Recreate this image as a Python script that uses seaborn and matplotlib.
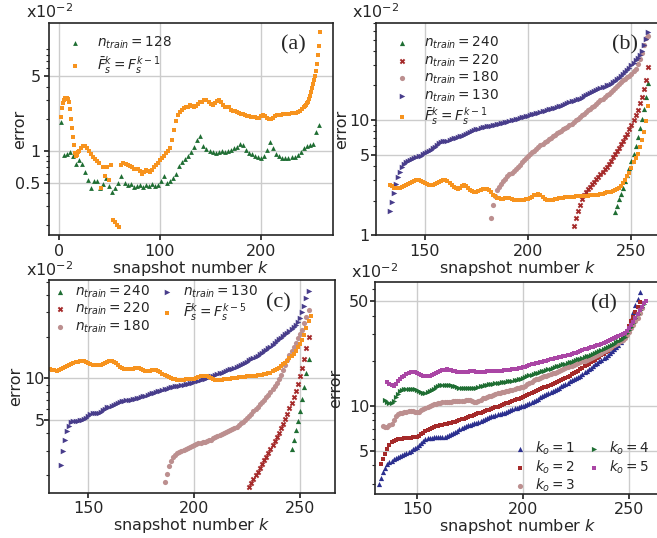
import numpy as np
import matplotlib
matplotlib.use("Agg")
import matplotlib.pyplot as plt
import seaborn as sns
from matplotlib.ticker import LogLocator, NullFormatter

# ---------------------------------------------------------------------------
# Error values, in units of 1e-2, per snapshot number k.
# Each series is stored as a start snapshot plus the values that follow it.
# ---------------------------------------------------------------------------

# (a) n_train = 128 (every third snapshot from k = 2)
a_train128_start, a_train128_step = 2, 3
a_train128 = [1.85, 0.91, 0.93, 0.98, 0.9, 0.75, 0.82, 0.75, 0.63, 0.53,
              0.45, 0.52, 0.52, 0.45, 0.49, 0.55, 0.47, 0.41, 0.45, 0.5,
              0.58, 0.5, 0.48, 0.49, 0.46, 0.47, 0.48, 0.46, 0.48, 0.47,
              0.49, 0.47, 0.48, 0.52, 0.58, 0.5, 0.52, 0.55, 0.6, 0.72,
              0.78, 0.84, 0.9, 0.97, 1.08, 1.25, 1.37, 1.1, 1.03, 1.0,
              0.97, 0.95, 0.98, 1.0, 0.97, 1.0, 1.02, 1.05, 1.08, 1.15,
              1.12, 1.02, 0.95, 0.93, 0.9, 0.88, 0.86, 0.9, 1.02, 1.22,
              1.05, 0.93, 0.89, 0.86, 0.85, 0.85, 0.87, 0.88, 0.92, 0.98,
              1.05, 1.1, 1.12, 1.16, 1.5, 1.74]

# (a) previous-snapshot baseline: k = 2..20, 22..242 (step 2), 243..258
a_prev_head = [2.06, 2.5, 2.8, 3.0, 3.1, 3.1, 3.1, 3.05, 2.85, 2.45,
               2.0, 1.65, 1.35, 1.12, 0.95, 0.9, 0.92, 0.97, 1.0]
a_prev_body = [1.05, 1.1, 1.1, 1.05, 0.99, 0.93, 0.88, 0.84, 0.8, 0.76,
               0.45, 0.7, 0.58, 0.71, 0.53, 0.73, 0.225, 0.215, 0.2, 0.19,
               0.74, 0.76, 0.75, 0.73, 0.72, 0.7, 0.68, 0.67, 0.68, 0.64,
               0.61, 0.63, 0.66, 0.65, 0.63, 0.66, 0.7, 0.74, 0.76, 0.82,
               0.86, 0.9, 0.95, 0.99, 1.05, 1.25, 1.55, 1.9, 2.15, 2.3,
               2.4, 2.5, 2.55, 2.6, 2.7, 2.65, 2.6, 2.62, 2.75, 2.85,
               2.9, 3.0, 3.0, 2.9, 2.75, 2.7, 2.8, 2.95, 3.0, 2.9,
               2.7, 2.6, 2.6, 2.55, 2.4, 2.35, 2.35, 2.3, 2.25, 2.2,
               2.22, 2.18, 2.12, 2.1, 2.08, 2.07, 2.06, 2.05, 2.05, 2.1,
               2.17, 2.12, 2.03, 2.0, 2.0, 2.05, 2.1, 2.15, 2.15, 2.18,
               2.2, 2.2, 2.22, 2.22, 2.24, 2.24, 2.27, 2.3, 2.38, 2.45,
               2.55]
a_prev_tail = [2.62, 2.7, 2.8, 2.9, 3.05, 3.3, 3.55, 3.9, 4.2, 4.6,
               5.0, 5.6, 6.6, 7.9, 9.7, 13.0]

# (b)
b_train240_start = 242
b_train240 = [1.6, 1.8, 2.05, 2.3, 2.6, 2.95, 3.35, 3.85, 4.4, 5.1,
              6.0, 7.1, 8.5, 10.2, 12.5, 16.0, 21.0]
b_train220_start = 222
b_train220 = [1.2, 1.42, 1.63, 1.85, 2.05, 2.22, 2.38, 2.52, 2.65, 2.78,
              2.92, 3.07, 3.22, 3.38, 3.55, 3.75, 3.95, 4.2, 4.45, 4.75,
              5.05, 5.4, 5.75, 6.15, 6.6, 7.1, 7.65, 8.3, 9.0, 10.0,
              11.0, 12.3, 14.0, 15.8, 18.5, 22.3, 28.7]
b_train180_start = 182
b_train180 = [1.4, 1.85, 2.2, 2.45, 2.65, 2.8, 2.95, 3.1, 3.25, 3.38,
              3.5, 3.65, 3.8, 3.95, 4.1, 4.3, 4.5, 4.7, 4.9, 5.05,
              5.25, 5.45, 5.65, 5.85, 6.05, 6.25, 6.45, 6.65, 6.85, 7.05,
              7.25, 7.5, 7.7, 7.9, 8.1, 8.3, 8.5, 8.75, 9.0, 9.3,
              9.6, 9.95, 10.3, 10.7, 11.0, 11.4, 11.8, 12.2, 12.6, 13.0,
              13.4, 13.9, 14.4, 14.9, 15.4, 15.9, 16.5, 17.0, 17.6, 18.3,
              19.0, 19.8, 20.6, 21.5, 22.2, 22.9, 23.6, 24.3, 25.0, 26.5,
              28.0, 30.5, 34.0, 38.0, 45.0, 51.4, 54.0]
b_train130_start = 133
b_train130 = [1.62, 1.96, 2.33, 2.81, 3.21, 3.55, 3.93, 4.2, 4.35, 4.45,
              4.55, 4.62, 4.7, 4.78, 4.85, 4.92, 5.05, 5.2, 5.3, 5.4,
              5.55, 5.7, 5.85, 6.05, 6.3, 6.5, 6.6, 6.65, 6.65, 6.7,
              6.8, 6.95, 7.05, 7.15, 7.25, 7.35, 7.5, 7.65, 7.8, 7.95,
              8.05, 8.15, 8.3, 8.45, 8.55, 8.65, 8.75, 8.85, 8.9, 8.95,
              9.05, 9.1, 9.2, 9.3, 9.4, 9.5, 9.6, 9.7, 9.8, 9.95,
              10.05, 10.2, 10.3, 10.45, 10.55, 10.65, 10.8, 10.9, 11.05, 11.2,
              11.3, 11.45, 11.6, 11.75, 11.9, 12.05, 12.2, 12.4, 12.55, 12.7,
              12.85, 13.0, 13.2, 13.4, 13.65, 13.9, 14.15, 14.4, 14.6, 14.8,
              15.0, 15.2, 15.4, 15.7, 16.05, 16.4, 16.75, 17.1, 17.45, 17.8,
              18.15, 18.5, 18.9, 19.25, 19.6, 20.0, 20.4, 20.8, 21.4, 22.0,
              22.6, 23.2, 24.0, 25.0, 26.2, 27.4, 28.6, 30.0, 31.4, 33.0,
              34.8, 36.6, 40.0, 45.0, 51.0, 57.8]
b_prev_start = 133
b_prev = [2.76, 2.68, 2.6, 2.55, 2.55, 2.58, 2.62, 2.68, 2.74, 2.8,
          2.86, 2.92, 2.96, 3.0, 3.0, 2.96, 2.9, 2.84, 2.78, 2.74,
          2.72, 2.74, 2.78, 2.84, 2.9, 2.96, 3.0, 3.0, 2.96, 2.86,
          2.74, 2.64, 2.56, 2.54, 2.6, 2.68, 2.72, 2.68, 2.58, 2.48,
          2.42, 2.38, 2.38, 2.42, 2.48, 2.52, 2.54, 2.54, 2.48, 2.38,
          2.26, 2.18, 2.12, 2.1, 2.08, 2.08, 2.1, 2.12, 2.1, 2.06,
          2.04, 2.02, 2.02, 2.02, 2.03, 2.04, 2.05, 2.06, 2.1, 2.16,
          2.22, 2.26, 2.28, 2.24, 2.16, 2.08, 2.04, 2.02, 2.02, 2.03,
          2.05, 2.07, 2.09, 2.11, 2.12, 2.13, 2.14, 2.15, 2.16, 2.17,
          2.18, 2.18, 2.19, 2.19, 2.2, 2.2, 2.21, 2.22, 2.22, 2.23,
          2.24, 2.26, 2.28, 2.3, 2.33, 2.36, 2.38, 2.4, 2.43, 2.47,
          2.52, 2.6, 2.7, 2.85, 3.0, 3.25, 3.5, 3.85, 4.3, 4.7,
          5.1, 5.8, 6.7, 7.9, 9.8, 13.2]

# (c)
c_train240_start = 246
c_train240 = [3.1, 3.6, 4.2, 4.9, 5.8, 7.1, 8.6, 10.9, 13.8]
c_train220_start = 226
c_train220 = [1.65, 1.75, 1.87, 2.0, 2.12, 2.25, 2.4, 2.55, 2.72, 2.9,
              3.1, 3.3, 3.52, 3.77, 4.05, 4.35, 4.7, 5.1, 5.55, 6.05,
              6.6, 7.3, 8.1, 9.1, 10.3, 11.8, 13.8, 16.5, 20.0]
c_train180_start = 186
c_train180 = [1.78, 2.03, 2.33, 2.53, 2.68, 2.79, 2.87, 2.93, 2.98, 3.04,
              3.09, 3.14, 3.19, 3.24, 3.3, 3.34, 3.38, 3.42, 3.46, 3.49,
              3.53, 3.57, 3.61, 3.7, 3.79, 3.85, 3.91, 3.98, 4.04, 4.1,
              4.17, 4.25, 4.32, 4.4, 4.48, 4.6, 4.72, 4.86, 5.0, 5.15,
              5.35, 5.55, 5.78, 6.0, 6.24, 6.5, 6.75, 7.0, 7.3, 7.6,
              7.95, 8.35, 8.75, 9.2, 9.9, 10.6, 11.5, 12.5, 13.6, 14.7,
              15.8, 16.9, 18.1, 19.4, 20.8, 22.3, 24.9, 27.5, 31.0]
c_train130_start = 137
c_train130 = [2.37, 3.0, 3.6, 4.15, 4.55, 4.8, 4.92, 4.95, 4.95, 4.97,
              5.0, 5.08, 5.2, 5.35, 5.5, 5.58, 5.6, 5.62, 5.65, 5.72,
              5.85, 6.0, 6.15, 6.25, 6.35, 6.45, 6.55, 6.65, 6.75, 6.82,
              6.88, 6.92, 6.96, 7.0, 7.05, 7.12, 7.18, 7.25, 7.32, 7.4,
              7.5, 7.6, 7.7, 7.8, 7.88, 7.96, 8.04, 8.12, 8.2, 8.3,
              8.4, 8.5, 8.6, 8.7, 8.75, 8.8, 8.85, 8.9, 8.95, 9.05,
              9.15, 9.25, 9.32, 9.4, 9.5, 9.6, 9.7, 9.8, 9.9, 10.05,
              10.2, 10.3, 10.45, 10.6, 10.75, 10.9, 11.0, 11.15, 11.3, 11.45,
              11.6, 11.75, 11.95, 12.1, 12.3, 12.5, 12.75, 12.95, 13.2, 13.45,
              13.75, 14.0, 14.3, 14.6, 14.95, 15.3, 15.7, 16.1, 16.5, 16.95,
              17.45, 18.0, 18.6, 19.2, 19.7, 20.2, 20.8, 21.4, 22.0, 22.8,
              23.5, 24.3, 25.5, 27.1, 30.3, 33.5, 37.8, 42.7]
c_prev5_start = 132
c_prev5 = [11.6, 11.5, 11.4, 11.3, 11.4, 11.6, 11.8, 12.0, 12.3, 12.5,
           12.7, 12.9, 13.1, 13.2, 13.3, 13.4, 13.3, 13.1, 12.8, 12.6,
           12.45, 12.4, 12.4, 12.45, 12.5, 12.7, 12.95, 13.2, 13.3, 13.3,
           13.1, 12.85, 12.5, 12.15, 11.85, 11.7, 11.6, 11.6, 11.65, 11.75,
           11.85, 11.9, 11.8, 11.6, 11.4, 11.3, 11.25, 11.3, 11.4, 11.5,
           11.5, 11.3, 11.05, 10.8, 10.55, 10.35, 10.2, 10.0, 9.9, 9.8,
           9.78, 9.76, 9.76, 9.78, 9.8, 9.8, 9.8, 9.85, 9.9, 10.0,
           10.15, 10.3, 10.4, 10.45, 10.35, 10.2, 10.05, 9.9, 9.78, 9.7,
           9.72, 9.76, 9.8, 9.85, 9.9, 9.95, 10.0, 10.05, 10.1, 10.15,
           10.2, 10.2, 10.25, 10.3, 10.3, 10.35, 10.4, 10.45, 10.5, 10.55,
           10.6, 10.7, 10.8, 10.9, 11.0, 11.2, 11.4, 11.6, 11.9, 12.2,
           12.6, 13.0, 13.4, 13.9, 14.4, 15.0, 15.8, 16.8, 17.8, 18.9,
           20.5, 23.0, 25.9, 28.0]

# (d) order of the reduced model k_o
d_ko1_start = 132
d_ko1 = [3.02, 3.3, 3.58, 3.85, 4.05, 4.18, 4.3, 4.4, 4.48, 4.55,
         4.62, 4.7, 4.78, 4.86, 4.94, 5.02, 5.1, 5.2, 5.3, 5.45,
         5.6, 5.78, 5.95, 6.05, 6.1, 6.12, 6.14, 6.15, 6.15, 6.17,
         6.18, 6.2, 6.3, 6.42, 6.52, 6.62, 6.7, 6.82, 6.95, 7.05,
         7.17, 7.28, 7.4, 7.48, 7.56, 7.64, 7.72, 7.8, 7.92, 8.05,
         8.18, 8.32, 8.42, 8.5, 8.58, 8.66, 8.74, 8.82, 8.9, 9.0,
         9.12, 9.24, 9.36, 9.48, 9.6, 9.7, 9.8, 9.9, 10.0, 10.15,
         10.3, 10.45, 10.6, 10.8, 10.98, 11.18, 11.38, 11.58, 11.8, 11.98,
         12.15, 12.33, 12.5, 12.7, 12.95, 13.2, 13.5, 13.8, 14.05, 14.3,
         14.55, 14.8, 15.05, 15.3, 15.6, 15.9, 16.3, 16.7, 17.1, 17.5,
         17.9, 18.4, 18.9, 19.4, 19.9, 20.3, 20.8, 21.3, 21.8, 22.5,
         23.2, 23.9, 24.7, 25.6, 26.8, 28.2, 29.7, 31.8, 34.5, 38.0,
         42.5, 47.0, 52.0, 58.0]
d_ko2_start = 133
d_ko2 = [4.07, 4.4, 4.75, 5.1, 5.45, 5.7, 5.85, 5.92, 5.96, 6.0,
         6.03, 6.05, 6.07, 6.1, 6.12, 6.15, 6.17, 6.2, 6.32, 6.48,
         6.62, 6.75, 6.88, 7.0, 7.1, 7.2, 7.27, 7.33, 7.39, 7.45,
         7.5, 7.56, 7.62, 7.68, 7.74, 7.8, 7.9, 8.0, 8.1, 8.2,
         8.3, 8.4, 8.5, 8.6, 8.7, 8.8, 8.9, 9.0, 9.1, 9.2,
         9.3, 9.4, 9.52, 9.64, 9.76, 9.88, 10.0, 10.12, 10.25, 10.38,
         10.51, 10.64, 10.77, 10.9, 11.04, 11.18, 11.32, 11.46, 11.6, 11.75,
         11.95, 12.15, 12.35, 12.55, 12.75, 12.95, 13.1, 13.25, 13.4, 13.55,
         13.7, 13.88, 14.1, 14.35, 14.6, 14.85, 15.1, 15.35, 15.6, 15.9,
         16.2, 16.5, 16.85, 17.2, 17.5, 17.9, 18.3, 18.7, 19.1, 19.5,
         19.9, 20.3, 20.8, 21.3, 21.8, 22.3, 22.8, 23.3, 23.9, 24.5,
         25.1, 25.8, 26.5, 27.4, 28.5, 29.7, 31.8, 34.0, 37.0, 39.4,
         42.5, 46.0, 49.6]
d_ko3_start = 134
d_ko3 = [7.31, 7.25, 7.25, 7.4, 7.6, 8.0, 8.5, 8.75, 8.9, 9.0,
         9.08, 9.12, 9.16, 9.2, 9.2, 9.15, 9.1, 9.15, 9.3, 9.45,
         9.6, 9.75, 9.9, 10.05, 10.2, 10.3, 10.38, 10.45, 10.52, 10.6,
         10.62, 10.64, 10.66, 10.68, 10.7, 10.73, 10.76, 10.8, 10.84, 10.88,
         10.9, 10.85, 10.75, 10.65, 10.65, 10.8, 11.0, 11.2, 11.3, 11.45,
         11.55, 11.65, 11.8, 11.95, 12.1, 12.2, 12.3, 12.4, 12.5, 12.6,
         12.7, 12.82, 12.94, 13.06, 13.18, 13.3, 13.4, 13.65, 13.9, 14.2,
         14.5, 14.8, 15.0, 15.2, 15.35, 15.5, 15.7, 15.9, 16.05, 16.25,
         16.45, 16.65, 16.85, 17.1, 17.3, 17.55, 17.8, 18.05, 18.3, 18.55,
         18.8, 19.05, 19.3, 19.55, 19.8, 20.05, 20.3, 20.6, 20.95, 21.3,
         21.65, 22.0, 22.35, 22.7, 23.1, 23.5, 23.9, 24.4, 24.9, 25.4,
         25.9, 26.4, 27.0, 27.6, 28.2, 29.6, 31.2, 33.0, 34.8, 36.6,
         38.6, 41.5, 45.3]
d_ko4_start = 135
d_ko4 = [10.9, 10.6, 10.45, 10.5, 10.8, 11.4, 12.0, 12.5, 12.8, 12.95,
         13.0, 12.95, 12.9, 13.0, 12.95, 12.8, 12.6, 12.4, 12.25, 12.2,
         12.3, 12.5, 12.75, 13.0, 13.3, 13.55, 13.75, 13.85, 13.85, 13.8,
         13.75, 13.7, 13.6, 13.45, 13.3, 13.2, 13.15, 13.1, 13.1, 13.1,
         13.1, 13.05, 13.05, 13.15, 13.3, 13.45, 13.6, 13.7, 13.8, 13.88,
         13.95, 14.02, 14.1, 14.18, 14.26, 14.34, 14.42, 14.5, 14.58, 14.66,
         14.75, 14.85, 14.95, 15.1, 15.2, 15.35, 15.55, 15.75, 15.95, 16.15,
         16.35, 16.5, 16.65, 16.8, 16.95, 17.1, 17.3, 17.5, 17.7, 17.9,
         18.1, 18.3, 18.5, 18.7, 18.9, 19.1, 19.3, 19.5, 19.75, 20.0,
         20.2, 20.4, 20.6, 20.85, 21.1, 21.35, 21.6, 21.9, 22.2, 22.5,
         22.8, 23.1, 23.5, 23.9, 24.3, 24.7, 25.1, 25.5, 26.0, 26.5,
         27.0, 27.6, 28.3, 29.0, 30.5, 32.0, 33.8, 36.0, 38.5, 41.0,
         43.5, 46.0, 48.0]
d_ko5_start = 136
d_ko5 = [14.5, 14.0, 13.7, 13.6, 13.9, 14.6, 15.2, 15.6, 15.9, 16.2,
         16.45, 16.7, 16.85, 16.85, 16.6, 16.3, 16.05, 15.9, 15.85, 15.85,
         15.9, 16.0, 16.2, 16.45, 16.75, 17.05, 17.3, 17.45, 17.5, 17.45,
         17.3, 17.1, 16.95, 16.85, 16.8, 16.75, 16.75, 16.8, 16.9, 17.0,
         17.0, 16.95, 16.85, 16.8, 16.8, 16.85, 16.9, 16.95, 17.0, 17.05,
         17.1, 17.1, 17.1, 17.15, 17.2, 17.25, 17.3, 17.35, 17.4, 17.5,
         17.6, 17.7, 17.8, 17.9, 18.05, 18.25, 18.5, 18.75, 18.95, 19.15,
         19.3, 19.45, 19.6, 19.75, 19.9, 20.05, 20.2, 20.4, 20.55, 20.7,
         20.9, 21.1, 21.3, 21.45, 21.6, 21.8, 22.0, 22.2, 22.4, 22.65,
         22.9, 23.2, 23.5, 23.8, 24.1, 24.35, 24.6, 24.85, 25.1, 25.35,
         25.6, 25.85, 26.3, 26.75, 27.2, 27.65, 28.1, 28.5, 28.9, 29.3,
         29.7, 30.1, 30.5, 31.8, 33.2, 34.6, 36.5, 38.6, 41.0, 43.5,
         46.0, 48.3, 50.0]

# Legend labels
lab_train = [r"$n_{train} = %d$" % n for n in (128, 240, 220, 180, 130)]
lab_prev1 = r"$\bar{F}_s^k = F_s^{k-1}$"
lab_prev5 = r"$\bar{F}_s^k = F_s^{k-5}$"
lab_ko = [r"$k_o = %d$" % n for n in range(1, 6)]

# Colours
GREEN = "#1f6e33"
ORANGE = "#f7931e"
BROWN = "#a52a2a"
ROSY = "#bc8f8f"
SLATE = "#483d8b"
NAVY = "#2b2f8f"
MAGENTA = "#aa46a5"
INK = "#262626"


def snapshots(start, values, step=1):
    return start + step * np.arange(len(values))


# ---------------------------------------------------------------------------
sns.set_theme(style="whitegrid")
plt.rcParams.update({
    "font.family": ["DejaVu Sans"],
    "font.size": 11.5,
    "axes.edgecolor": INK,
    "axes.linewidth": 1.2,
    "axes.labelsize": 11.5,
    "axes.labelcolor": INK,
    "grid.color": "#cccccc",
    "grid.linewidth": 1.0,
    "xtick.bottom": True,
    "ytick.left": True,
    "xtick.labelsize": 11.5,
    "ytick.labelsize": 11.5,
    "xtick.color": INK,
    "ytick.color": INK,
    "xtick.major.size": 3.5,
    "ytick.major.size": 3.5,
    "ytick.minor.size": 2.0,
    "ytick.minor.width": 0.8,
    "xtick.major.pad": 2.5,
    "ytick.major.pad": 2.5,
    "mathtext.fontset": "dejavusans",
})

W, H = 657, 538
fig = plt.figure(figsize=(W / 100, H / 100), dpi=100)


def add_axes(left, top, right, bottom):
    return fig.add_axes([left / W, 1 - bottom / H, (right - left) / W, (bottom - top) / H])


ax_a = add_axes(49, 22.7, 333, 235.3)
ax_b = add_axes(375.7, 22.7, 660, 235.3)
ax_c = add_axes(49.3, 280, 335, 492.7)
ax_d = add_axes(374.7, 282.3, 660, 494)


def dots(ax, k, v, marker, color, size, label):
    sns.scatterplot(x=k, y=v, ax=ax, marker=marker, color=color, s=size,
                    linewidth=0, label=label, legend=True)


# (a)
dots(ax_a, snapshots(a_train128_start, a_train128, a_train128_step), a_train128,
     "^", GREEN, 12, lab_train[0])
k_prev = np.concatenate([snapshots(2, a_prev_head), snapshots(22, a_prev_body, 2),
                         snapshots(243, a_prev_tail)])
dots(ax_a, k_prev, np.concatenate([a_prev_head, a_prev_body, a_prev_tail]),
     "s", ORANGE, 9, lab_prev1)

# (b)
dots(ax_b, snapshots(b_train240_start, b_train240), b_train240, "^", GREEN, 14, lab_train[1])
dots(ax_b, snapshots(b_train220_start, b_train220), b_train220, "X", BROWN, 16, lab_train[2])
dots(ax_b, snapshots(b_train180_start, b_train180), b_train180, "o", ROSY, 14, lab_train[3])
dots(ax_b, snapshots(b_train130_start, b_train130), b_train130, ">", SLATE, 16, lab_train[4])
dots(ax_b, snapshots(b_prev_start, b_prev), b_prev, "s", ORANGE, 12, lab_prev1)

# (c)
dots(ax_c, snapshots(c_train240_start, c_train240), c_train240, "^", GREEN, 14, lab_train[1])
dots(ax_c, snapshots(c_train220_start, c_train220), c_train220, "X", BROWN, 16, lab_train[2])
dots(ax_c, snapshots(c_train180_start, c_train180), c_train180, "o", ROSY, 14, lab_train[3])
dots(ax_c, snapshots(c_train130_start, c_train130), c_train130, ">", SLATE, 16, lab_train[4])
dots(ax_c, snapshots(c_prev5_start, c_prev5), c_prev5, "s", ORANGE, 12, lab_prev5)

# (d)
dots(ax_d, snapshots(d_ko1_start, d_ko1), d_ko1, "^", NAVY, 14, lab_ko[0])
dots(ax_d, snapshots(d_ko2_start, d_ko2), d_ko2, "s", BROWN, 12, lab_ko[1])
dots(ax_d, snapshots(d_ko3_start, d_ko3), d_ko3, "o", ROSY, 14, lab_ko[2])
dots(ax_d, snapshots(d_ko4_start, d_ko4), d_ko4, ">", GREEN, 14, lab_ko[3])
dots(ax_d, snapshots(d_ko5_start, d_ko5), d_ko5, "s", MAGENTA, 12, lab_ko[4])

# Axis set-up for every panel
panels = [
    (ax_a, "(a)", (-9.6, 271), (0.16, 16.0), [0, 100, 200], [0.5, 1, 5], ["0.5", "1", "5"],
     -0.078, 2.7, (0.86, 0.895)),
    (ax_b, "(b)", (126.3, 263.8), (1.0, 70.2), [150, 200, 250], [1, 5, 10], ["1", "5", "10"],
     -0.094, 0.7, (0.877, 0.895)),
    (ax_c, "(c)", (131.6, 266.5), (1.49, 51.3), [150, 200, 250], [5, 10], ["5", "10"],
     -0.091, 0.0, (0.802, 0.894)),
    (ax_d, "(d)", (130.05, 264.6), (2.57, 66.9), [150, 200, 250], [5, 10, 50], ["5", "10", "50"],
     -0.111, 0.5, (0.805, 0.9)),
]
for ax, tag, xlim, ylim, xt, yt, ytl, ylab_x, ypad, tag_xy in panels:
    ax.set_yscale("log")
    ax.set_xlim(*xlim)
    ax.set_ylim(*ylim)
    ax.set_xticks(xt)
    ax.set_yticks(yt)
    ax.set_yticklabels(ytl)
    ax.yaxis.set_minor_locator(LogLocator(base=10, subs=np.arange(2, 10), numticks=20))
    ax.yaxis.set_minor_formatter(NullFormatter())
    ax.tick_params(axis="y", which="major", pad=ypad)
    ax.grid(True, which="major")
    ax.grid(False, which="minor")
    ax.set_xlabel(r"snapshot number $k$", labelpad=0)
    ax.set_ylabel("error")
    ax.yaxis.set_label_coords(ylab_x, 0.5)
    for sp in ax.spines.values():
        sp.set_visible(True)
        sp.set_color(INK)
        sp.set_linewidth(1.2)
    ax.text(-0.082, 1.02, r"x$10^{-2}$", transform=ax.transAxes, ha="left",
            va="baseline", fontsize=11.5, color=INK)
    ax.text(tag_xy[0], tag_xy[1], tag, transform=ax.transAxes, ha="center", va="center",
            fontsize=16, family=["Liberation Serif"], color=INK)

LEG_FS = 9.8
ax_a.legend(loc="upper left", handletextpad=0.63, labelspacing=0.2, frameon=False,
            fontsize=LEG_FS, borderaxespad=0.5, borderpad=0.4)
ax_b.legend(loc="upper left", handletextpad=0.63, labelspacing=0.08, frameon=False,
            fontsize=LEG_FS, borderaxespad=0.5, borderpad=0.4)
ax_c.legend(loc="upper left", ncol=2, handlelength=1.0, handletextpad=0.65,
            columnspacing=0.75, labelspacing=0.08, frameon=False, fontsize=LEG_FS,
            borderaxespad=0.1, borderpad=0.15)
ax_d.legend(loc="lower right", ncol=2, handlelength=1.0, handletextpad=0.6,
            columnspacing=0.85, labelspacing=0.08, frameon=False, fontsize=LEG_FS,
            bbox_to_anchor=(0.964, 0.0), borderaxespad=0.0, borderpad=0.0)

fig.savefig("out.png", dpi=100)
